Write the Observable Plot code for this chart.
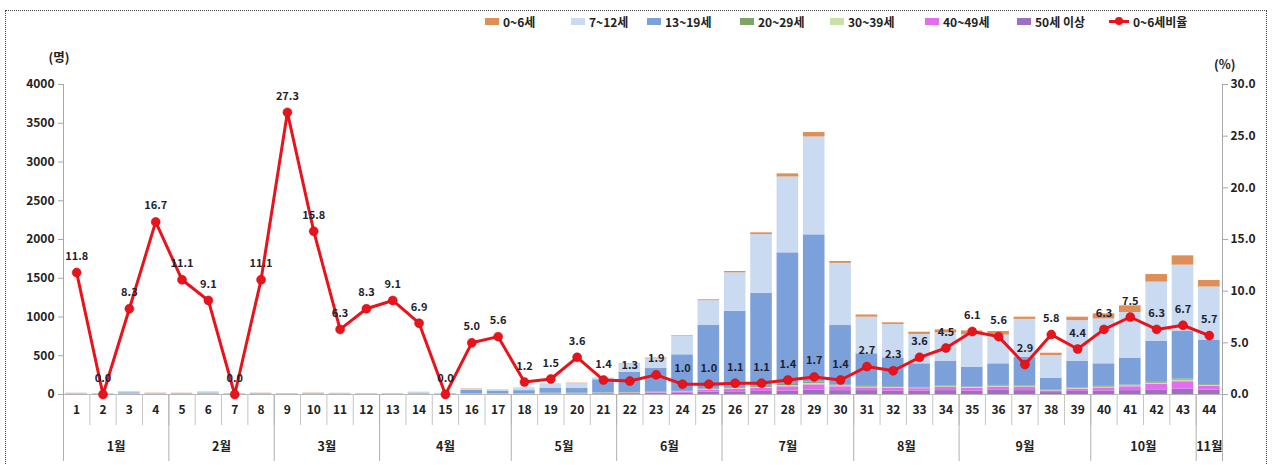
<!DOCTYPE html>
<html><head><meta charset="utf-8">
<script src="https://cdn.jsdelivr.net/npm/d3@7"></script>
<script src="https://cdn.jsdelivr.net/npm/@observablehq/plot@0.6"></script>
<style>
body{margin:0;background:#fff;font-family:'Noto Sans CJK KR','Noto Sans',sans-serif;}
#wrap{position:relative;width:1275px;height:465px;overflow:hidden;}
#border{position:absolute;left:5px;top:10px;width:1262px;height:480px;border:1px dotted #444;box-sizing:border-box;}
#legend{position:relative;height:36px;}
.li{position:absolute;top:13px;display:flex;align-items:center;font-size:12px;font-weight:bold;color:#222;white-space:nowrap;}
.sw{width:14px;height:7px;margin-right:4px;}
.ln{position:relative;width:20px;height:3px;background:#E8131B;margin-right:4px;}
.ln::after{content:"";position:absolute;left:6px;top:-3px;width:8px;height:8px;border-radius:50%;background:#E8131B;}
#chart{position:relative;}
</style></head>
<body><div id="wrap"><div id="border"></div><div id="legend"></div><div id="chart"></div></div>
<script>
// ---- data ----
const weeks = d3.range(1, 45);
const ageNames = ["0~6세", "7~12세", "13~19세", "20~29세", "30~39세", "40~49세", "50세 이상"];
const ageColors = ["#DE8E57", "#C9DAF1", "#7CA0DA", "#7EA566", "#C8E2A6", "#E46CEF", "#9D6FC0"];
const age0_6 = [2,0,3,3,2,3,0,2,3,3,1,1,1,2,0, 4,3,1,2,5,3,5,9,8,12,17,23,40,57,24,28,21,29,38,50,46,29,31,44,66,86,98,120,84];
const age7_12 = [5,4,10,5,5,10,4,5,3,5,5,4,3,9,5, 14,12,35,58,64,17,105,126,237,320,495,756,979,1263,802,473,431,379,370,417,371,487,291,528,579,589,766,856,690];
const age13_19 = [4,3,9,4,5,8,3,5,2,5,4,3,3,8,4, 42,34,37,61,60,169,262,305,472,819,985,1203,1698,1899,766,420,373,305,316,255,279,372,156,338,291,347,527,613,570];
const age20_29 = [2,2,4,2,2,4,2,2,1,2,2,1,1,3,2, 2,2,2,3,3,3,4,4,5,8,10,12,15,18,12,10,10,8,10,8,10,10,5,8,10,10,12,15,10];
const age30_39 = [2,1,4,2,2,3,1,2,1,2,2,1,1,3,1, 2,2,2,3,3,3,4,4,5,8,10,12,15,18,12,10,10,8,10,10,12,10,5,10,10,12,15,20,12];
const age40_49 = [1,1,3,1,1,3,1,1,1,1,1,1,1,2,1, 4,3,4,5,5,7,8,10,15,25,35,40,55,70,50,35,35,30,40,35,40,40,20,30,40,50,70,95,50];
const age50p = [1,1,3,1,1,2,1,1,0,1,1,1,1,2,1, 5,4,5,6,6,8,10,12,15,30,35,40,45,55,50,50,45,45,50,45,55,50,25,40,45,50,60,70,55];
const ratio0_6 = [11.8,0.0,8.3,16.7,11.1,9.1,0.0,11.1,27.3,15.8,6.3,8.3,9.1,6.9,0.0,5.0,5.6,1.2,1.5,3.6,1.4,1.3,1.9,1.0,1.0,1.1,1.1,1.4,1.7,1.4,2.7,2.3,3.6,4.5,6.1,5.6,2.9,5.8,4.4,6.3,7.5,6.3,6.7,5.7];
const monthNames = ["1월","2월","3월","4월","5월","6월","7월","8월","9월","10월","11월"];
const monthFirstWeek = [1,5,9,13,18,22,26,31,35,40,44];
const monthLastWeek = [4,8,12,17,21,25,30,34,39,43,44];
const countTicks = d3.range(0, 4001, 500);
const ratioTicks = [0, 5, 10, 15, 20, 25, 30];

// ---- build stacked table (bottom -> top: 50+ ... 0~6) ----
const series = [age0_6, age7_12, age13_19, age20_29, age30_39, age40_49, age50p];
const stackOrder = [6, 5, 4, 3, 2, 1, 0];
const rows = [];
weeks.forEach((w, i) => {
  let base = 0;
  for (const s of stackOrder) {
    const v = series[s][i];
    rows.push({week: w, age: ageNames[s], y1: base, y2: base + v});
    base += v;
  }
});
const ratioRows = weeks.map((w, i) => ({week: w, ratio: ratio0_6[i]}));
const months = monthNames.map((m, i) => ({name: m, first: monthFirstWeek[i], last: monthLastWeek[i]}));

// ---- legend ----
const legendX = [485, 571, 647, 740, 830, 925, 1017, 1109];
const leg = document.getElementById("legend");
ageNames.forEach((n, i) => {
  const d = document.createElement("div");
  d.className = "li"; d.style.left = legendX[i] + "px";
  d.innerHTML = `<span class="sw" style="background:${ageColors[i]}"></span>${n}`;
  leg.appendChild(d);
});
{
  const d = document.createElement("div");
  d.className = "li"; d.style.left = legendX[7] + "px";
  d.innerHTML = `<span class="ln"></span>0~6세비율`;
  leg.appendChild(d);
}

// ---- chart ----
const k = 4000 / 30;
const half = 0.41;
const bounds = d3.range(0.5, 45, 1);
const monthBounds = [...monthFirstWeek.map(w => w - 0.5), 44.5];

const chart = Plot.plot({
  width: 1275, height: 429,
  marginLeft: 63, marginRight: 53, marginTop: 48, marginBottom: 71,
  style: {fontFamily: "'Noto Sans CJK KR','Noto Sans',sans-serif", fontSize: "12px", fontWeight: "bold", color: "#222", background: "transparent"},
  x: {type: "linear", domain: [0.5, 44.5], axis: null},
  y: {domain: [0, 4000], axis: null},
  color: {domain: ageNames, range: ageColors},
  marks: [
    Plot.rect(rows, {x1: d => d.week - half, x2: d => d.week + half, y1: "y1", y2: "y2", fill: "age"}),
    Plot.ruleY([0], {stroke: "#b5b5b5"}),
    Plot.ruleX([0.5, 44.5], {y1: 0, y2: 4000, stroke: "#a8a8a8"}),
    Plot.axisY({anchor: "left", ticks: countTicks, tickSize: 5, tickPadding: 4, tickFormat: d => String(d), stroke: "#a8a8a8", label: null}),
    Plot.axisY({anchor: "right", ticks: ratioTicks.map(r => r * k), tickSize: 5, tickPadding: 3, tickFormat: d => (d / k).toFixed(1), stroke: "#a8a8a8", label: null}),
    Plot.axisX({ticks: bounds, tickSize: 31, tickFormat: () => "", stroke: "#c4c4c4", label: null}),
    Plot.axisX({ticks: monthBounds, tickSize: 67, tickFormat: () => "", stroke: "#b0b0b0", label: null}),
    Plot.axisX({ticks: weeks, tickSize: 0, tickPadding: 11, tickFormat: d => String(d), label: null}),
    Plot.text(months, {x: d => (d.first + d.last) / 2, y: 0, dy: 52, text: "name", fontSize: 12.5, fontWeight: "bold", fill: "#222"}),
    Plot.line(ratioRows, {x: "week", y: d => d.ratio * k, stroke: "#E8131B", strokeWidth: 3}),
    Plot.dot(ratioRows, {x: "week", y: d => d.ratio * k, r: 4.5, fill: "#E8131B", stroke: "#C40D14", strokeWidth: 0.5}),
    Plot.text(ratioRows, {x: "week", y: d => d.ratio * k, dy: -16, text: d => d.ratio.toFixed(1), fontSize: 11, fontWeight: "bold", fill: "#1f1f2e"}),
    Plot.text(["(명)"], {frameAnchor: "top-left", dx: -15, dy: -31, fontSize: 12.5, fontWeight: "bold", fill: "#222"}),
    Plot.text(["(%)"], {frameAnchor: "top-right", dx: 13, dy: -24, fontSize: 12.5, fontWeight: "bold", fill: "#222"})
  ]
});
document.getElementById("chart").appendChild(chart);
</script>
</body></html>
